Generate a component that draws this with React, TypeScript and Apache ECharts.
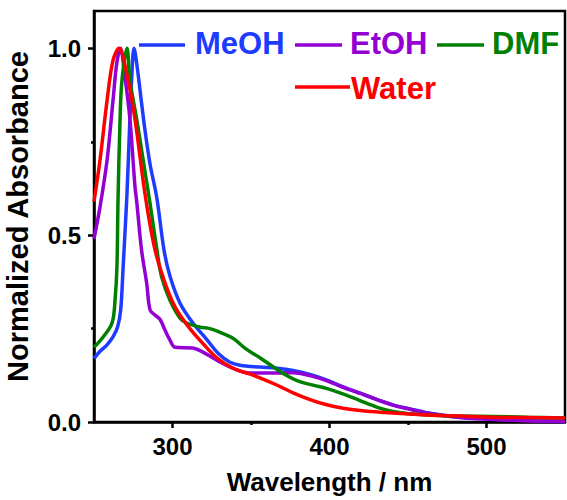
import React, { useEffect, useRef } from "react";
import * as echarts from "echarts";

// Wavelength (nm) and normalized absorbance
const meohX = [250, 254, 258, 262, 265, 267, 268.5, 269.7, 271, 272.5, 274, 275.5, 277.5, 280.4, 282.5, 285.7, 290, 294.6, 298.4, 304.8, 313, 322, 329, 336.6, 343, 355.7, 366.6, 376.8, 387.6, 398.4, 408.6, 419.4, 430.3, 440.4, 451.3, 462, 483, 504, 526, 550];
const meohY = [0.17, 0.19, 0.205, 0.227, 0.254, 0.3, 0.41, 0.505, 0.61, 0.77, 0.92, 1.0, 0.95, 0.85, 0.78, 0.69, 0.6, 0.46, 0.39, 0.318, 0.265, 0.22, 0.184, 0.16, 0.152, 0.147, 0.144, 0.138, 0.127, 0.112, 0.094, 0.077, 0.06, 0.046, 0.035, 0.025, 0.013, 0.009, 0.005, 0.003];

const etohX = [250, 253.8, 258.3, 262.1, 264.5, 266.8, 269.5, 272.9, 276.1, 277.2, 280.3, 283.6, 285.7, 288.9, 292, 295.2, 298.4, 301.6, 313, 319.4, 328, 338.5, 349.4, 366.6, 376.8, 387.6, 398.4, 408.6, 419.4, 430.3, 440.4, 451.3, 462, 483, 504, 526, 550];
const etohY = [0.49, 0.575, 0.7, 0.86, 0.96, 1.0, 0.93, 0.81, 0.63, 0.59, 0.46, 0.37, 0.3, 0.286, 0.275, 0.246, 0.219, 0.2, 0.198, 0.187, 0.166, 0.144, 0.131, 0.131, 0.132, 0.124, 0.11, 0.093, 0.077, 0.06, 0.045, 0.034, 0.024, 0.012, 0.007, 0.003, 0.001];

const dmfX = [250, 255.7, 261.5, 263.4, 264.6, 265.3, 266.6, 267.8, 271, 272.9, 277.2, 282.5, 285.7, 290.1, 293.1, 298.4, 304.8, 309, 317.5, 323.9, 330.3, 338.5, 347, 355.7, 364, 373, 381, 390, 398, 408, 419, 430, 440.4, 451.3, 462, 483, 504, 526, 550];
const dmfY = [0.2, 0.227, 0.265, 0.326, 0.414, 0.594, 0.81, 0.914, 1.0, 0.914, 0.81, 0.67, 0.585, 0.46, 0.388, 0.326, 0.278, 0.265, 0.254, 0.25, 0.24, 0.224, 0.195, 0.172, 0.148, 0.124, 0.108, 0.098, 0.09, 0.076, 0.058, 0.04, 0.028, 0.022, 0.019, 0.016, 0.015, 0.013, 0.011];

const waterX = [250, 253.8, 258.3, 262.1, 265.9, 271, 276.1, 282.5, 288.9, 296.3, 302.7, 311.1, 319.4, 328.2, 338.5, 349.4, 357.6, 366.4, 376.8, 387.6, 398.2, 408.6, 419.4, 440.4, 462, 483, 504, 526, 550];
const waterY = [0.59, 0.7, 0.86, 0.968, 1.0, 0.93, 0.81, 0.61, 0.46, 0.36, 0.3, 0.25, 0.21, 0.172, 0.144, 0.128, 0.115, 0.099, 0.078, 0.06, 0.046, 0.037, 0.031, 0.024, 0.019, 0.016, 0.013, 0.012, 0.011];

const seriesNames = ["MeOH", "EtOH", "DMF", "Water"];
const seriesColors = ["#1E3CFF", "#9400D3", "#008000", "#FF0000"];
const seriesXs = [meohX, etohX, dmfX, waterX];
const seriesYs = [meohY, etohY, dmfY, waterY];

const xMajorTicks = [300, 400, 500];
const xMinorTicks = [350, 450];
const yMajorTicks = [0, 0.5, 1.0];
const yMinorTicks = [0.25, 0.75];

const FONT = "'Liberation Sans', Arial, Helvetica, sans-serif";

export default function App() {
  const ref = useRef<HTMLDivElement>(null);
  useEffect(() => {
    if (!ref.current) return;
    const chart = echarts.init(ref.current, null, { renderer: "svg" });
    const axisCommonX = {
      type: "value",
      min: 250,
      max: 550,
      splitLine: { show: false },
    };
    const axisCommonY = {
      type: "value",
      min: 0,
      max: 1.1,
      splitLine: { show: false },
    };
    const legendItems: any[] = [];
    const legendPos = [
      { x1: 139, x2: 185, y: 45, tx: 195, ty: 43 },
      { x1: 295, x2: 342, y: 45, tx: 350, ty: 43 },
      { x1: 437, x2: 484, y: 45, tx: 492, ty: 43 },
      { x1: 295, x2: 350, y: 87, tx: 351, ty: 88 },
    ];
    seriesNames.forEach((name, i) => {
      const p = legendPos[i];
      legendItems.push({
        type: "line",
        shape: { x1: p.x1, y1: p.y, x2: p.x2, y2: p.y },
        style: { stroke: seriesColors[i], lineWidth: 3.5 },
      });
      legendItems.push({
        type: "text",
        x: p.tx,
        y: p.ty,
        style: {
          text: name,
          fill: seriesColors[i],
          fontSize: 31,
          fontWeight: "bold",
          fontFamily: FONT,
          verticalAlign: "middle",
          align: "left",
        },
      });
    });
    chart.setOption({
      animation: false,
      backgroundColor: "#fff",
      grid: {
        left: 94,
        right: 2,
        top: 11,
        bottom: 78,
        show: true,
        borderColor: "#000",
        borderWidth: 2.5,
        containLabel: false,
        outerBoundsMode: "none",
      },
      xAxis: [
        {
          ...axisCommonX,
          position: "bottom",
          name: "Wavelength / nm",
          nameLocation: "middle",
          nameGap: 47,
          nameTextStyle: { fontSize: 26, fontWeight: "bold", fontFamily: FONT, color: "#000" },
          axisLine: { show: true, onZero: false, lineStyle: { color: "#000", width: 2.5 } },
          axisTick: { show: true, inside: false, length: 6, customValues: xMajorTicks, lineStyle: { color: "#000", width: 2.5 } },
          axisLabel: { show: true, customValues: xMajorTicks, margin: 12, fontSize: 24, fontWeight: "bold", fontFamily: FONT, color: "#000" },
        },
        {
          ...axisCommonX,
          position: "bottom",
          axisLine: { show: false },
          axisTick: { show: true, inside: false, length: 3, customValues: xMinorTicks, lineStyle: { color: "#000", width: 2.5 } },
          axisLabel: { show: false },
        },
      ],
      yAxis: [
        {
          ...axisCommonY,
          position: "left",
          name: "Normalized Absorbance",
          nameLocation: "middle",
          nameGap: 62,
          nameTextStyle: { fontSize: 29, fontWeight: "bold", fontFamily: FONT, color: "#000" },
          axisLine: { show: true, onZero: false, lineStyle: { color: "#000", width: 2.5 } },
          axisTick: { show: true, inside: false, length: 6, customValues: yMajorTicks, lineStyle: { color: "#000", width: 2.5 } },
          axisLabel: {
            show: true,
            customValues: yMajorTicks,
            margin: 13,
            fontSize: 24,
            fontWeight: "bold",
            fontFamily: FONT,
            color: "#000",
            formatter: (v: number) => v.toFixed(1),
          },
        },
        {
          ...axisCommonY,
          position: "left",
          axisLine: { show: false },
          axisTick: { show: true, inside: false, length: 3, customValues: yMinorTicks, lineStyle: { color: "#000", width: 2.5 } },
          axisLabel: { show: false },
        },
      ],
      series: seriesNames.map((name, i) => ({
        name,
        type: "line",
        xAxisIndex: 0,
        yAxisIndex: 0,
        data: seriesXs[i].map((x, j) => [x, seriesYs[i][j]]),
        smooth: 0.35,
        showSymbol: false,
        symbol: "none",
        clip: true,
        lineStyle: { color: seriesColors[i], width: 3.5 },
        itemStyle: { color: seriesColors[i] },
        z: 2 + i,
      })),
      graphic: legendItems,
    });
    return () => chart.dispose();
  }, []);
  return (
    <div
      ref={ref}
      style={{ position: "fixed", left: 0, top: 0, width: 567, height: 500 }}
    />
  );
}
